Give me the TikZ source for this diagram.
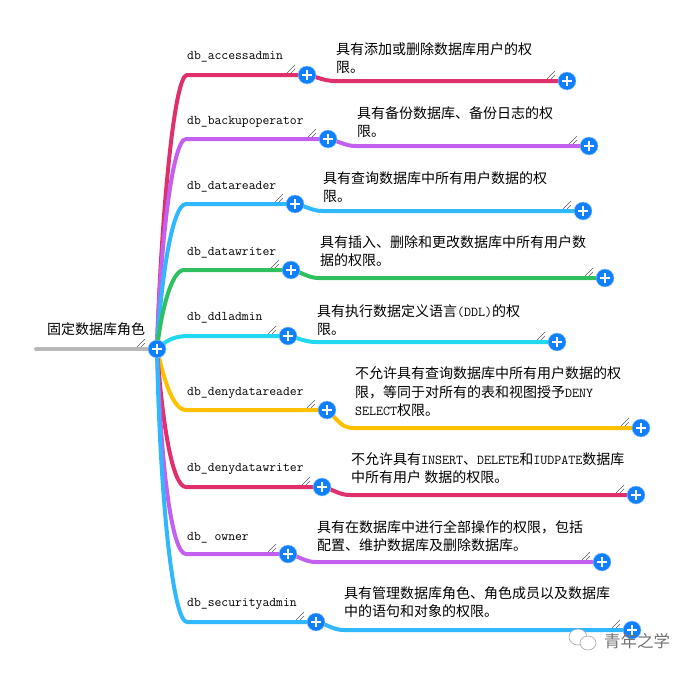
\documentclass[tikz,border=0pt]{standalone}
\usepackage{fontspec}
\setmainfont{Noto Sans CJK SC}
\usepackage{xcolor}
\usetikzlibrary{backgrounds,shapes.geometric}
\definecolor{expblue}{RGB}{16,128,255}
\definecolor{lncrimson}{RGB}{224,48,108}
\definecolor{lnpurple}{RGB}{196,96,240}
\definecolor{lnblue}{RGB}{48,184,255}
\definecolor{lngreen}{RGB}{48,192,96}
\definecolor{lncyan}{RGB}{32,216,240}
\definecolor{lnyellow}{RGB}{255,192,0}
\newcommand{\en}[1]{{\ttfamily\fontsize{13.6}{18}\selectfont #1}}
\tikzset{
  expander/.style={circle,fill=expblue,draw=expblue!40,line width=.4pt,minimum size=18,inner sep=0pt,
                   path picture={\draw[white,line width=2.6pt]
                     ([xshift=-5]path picture bounding box.center)--([xshift=5]path picture bounding box.center)
                     ([yshift=-5]path picture bounding box.center)--([yshift=5]path picture bounding box.center);}},
  branch/.style={line width=4pt,line cap=round},
  hatchline/.style={line width=.5pt,black!65},
  rolename/.style={anchor=west,inner sep=0pt,font=\ttfamily\fontsize{13.3}{18}\selectfont},
  desc/.style={anchor=west,inner sep=0pt,align=left,font=\fontsize{14}{18.6}\selectfont},
  bubble/.style={draw=black!35,fill=white,line width=.6pt}
}

\begin{document}
\begin{tikzpicture}[x=1pt,y=-1pt]
  \useasboundingbox (0,0) rectangle (693,672);
  % root
  \node[anchor=west,inner sep=0pt,font=\fontsize{14}{18}\selectfont] (rt) at (47,329) {固定数据库角色};
  \coordinate (s) at (36,349);
  \node[expander] (r) at (157,349) {};
  % level one
  \node[expander] (a) at (307,75) {};
  \node[expander] (b) at (328,139) {};
  \node[expander] (c) at (295,204) {};
  \node[expander] (d) at (291,270) {};
  \node[expander] (e) at (288,336) {};
  \node[expander] (f) at (327,410) {};
  \node[expander] (g) at (322,487) {};
  \node[expander] (h) at (288,554) {};
  \node[expander] (i) at (316,622) {};
  % level two
  \node[expander] (aa) at (567,81) {};
  \node[expander] (bb) at (589,146) {};
  \node[expander] (cc) at (583,211) {};
  \node[expander] (dd) at (605,278) {};
  \node[expander] (ee) at (557,342) {};
  \node[expander] (ff) at (641,428) {};
  \node[expander] (gg) at (636,495) {};
  \node[expander] (hh) at (602,562) {};
  \node[expander] (ii) at (632,630) {};
  % role names
  \node[rolename] (la) at (187,57) {db\_accessadmin};
  \node[rolename] (lb) at (187,122) {db\_backupoperator};
  \node[rolename] (lc) at (187,187) {db\_datareader};
  \node[rolename] (ld) at (187,253) {db\_datawriter};
  \node[rolename] (le) at (187,318) {db\_ddladmin};
  \node[rolename] (lf) at (187,393) {db\_denydatareader};
  \node[rolename] (lg) at (187,469) {db\_denydatawriter};
  \node[rolename] (lh) at (187,538) {db\_ owner};
  \node[rolename] (li) at (187,604) {db\_securityadmin};
  % descriptions
  \node[desc] (ta) at (336,58) {具有添加或删除数据库用户的权\\限。};
  \node[desc] (tb) at (357,122) {具有备份数据库、备份日志的权\\限。};
  \node[desc] (tc) at (323,187) {具有查询数据库中所有用户数据的权\\限。};
  \node[desc] (td) at (320,251) {具有插入、删除和更改数据库中所有用户数\\据的权限。};
  \node[desc] (te) at (317,320) {具有执行数据定义语言\en{(DDL)}的权\\限。};
  \node[desc] (tf) at (355,392) {不允许具有查询数据库中所有用户数据的权\\限，等同于对所有的表和视图授予\en{DENY}\\\en{SELECT}权限。};
  \node[desc] (tg) at (351,468) {不允许具有\en{INSERT}、\en{DELETE}和\en{IUDPATE}数据库\\中所有用户 数据的权限。};
  \node[desc] (th) at (317,536) {具有在数据库中进行全部操作的权限，包括\\配置、维护数据库及删除数据库。};
  \node[desc] (ti) at (344,602) {具有管理数据库角色、角色成员以及数据库\\中的语句和对象的权限。};
  % small marks
  \foreach \n in {r,a,b,c,d,e,f,g,h,i,aa,bb,cc,dd,ee,ff,gg,hh,ii}{
    \draw[hatchline] ([shift={(-20,-2)}]\n.center)--([shift={(-12,-10)}]\n.center);
    \draw[hatchline] ([shift={(-16,-2)}]\n.center)--([shift={(-12,-6)}]\n.center);
  }
  \begin{scope}[on background layer]
    \draw[branch,black!28] (s)--(r.center);
    % root to level one
    \draw[branch,lncrimson] (r.center) .. controls (161,220) and (174,75) .. (187,75) -- (a.center);
    \draw[branch,lnpurple] (r.center) .. controls (160,250) and (172,139) .. (186,139) -- (b.center);
    \draw[branch,lnblue] (r.center) .. controls (161,280) and (172,204) .. (186,204) -- (c.center);
    \draw[branch,lngreen] (r.center) .. controls (160,320) and (170,270) .. (184,270) -- (d.center);
    \draw[branch,lncyan] (r.center) .. controls (165,342) and (172,336) .. (188,336) -- (e.center);
    \draw[branch,lnyellow] (r.center) .. controls (163,375) and (172,410) .. (186,410) -- (f.center);
    \draw[branch,lncrimson] (r.center) .. controls (162,420) and (172,487) .. (186,487) -- (g.center);
    \draw[branch,lnpurple] (r.center) .. controls (161,470) and (172,554) .. (186,554) -- (h.center);
    \draw[branch,lnblue] (r.center) .. controls (160,500) and (173,622) .. (187,622) -- (i.center);
    % level one to level two
    \draw[branch,lncrimson] (a.center) to[out=-10,in=180] (335,81) -- (aa.center);
    \draw[branch,lnpurple] (b.center) to[out=-10,in=180] (356,146) -- (bb.center);
    \draw[branch,lnblue] (c.center) to[out=-10,in=180] (323,211) -- (cc.center);
    \draw[branch,lngreen] (d.center) to[out=-10,in=180] (319,278) -- (dd.center);
    \draw[branch,lncyan] (e.center) to[out=-10,in=180] (316,342) -- (ee.center);
    \draw[branch,lnyellow] (f.center) to[out=-40,in=180] (353,428) -- (ff.center);
    \draw[branch,lncrimson] (g.center) to[out=-10,in=180] (350,495) -- (gg.center);
    \draw[branch,lnpurple] (h.center) to[out=-10,in=180] (316,562) -- (hh.center);
    \draw[branch,lnblue] (i.center) to[out=-10,in=180] (344,630) -- (ii.center);
  \end{scope}
  % watermark
  \node[bubble,ellipse,minimum width=18,minimum height=16,inner sep=0pt] (w1) at (578,637) {};
  \node[bubble,ellipse,minimum width=16,minimum height=14,inner sep=0pt] (w2) at (588,643) {};
  \node[anchor=west,inner sep=0pt,text=black!55,font=\fontsize{16.5}{18}\selectfont] (wm) at (604,641) {青年之学};
\end{tikzpicture}
\end{document}
